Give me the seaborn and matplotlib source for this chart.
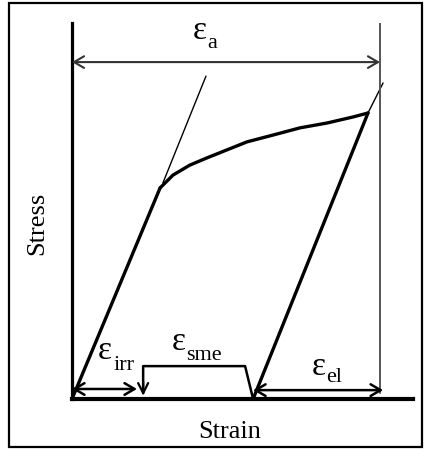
import matplotlib
matplotlib.use("Agg")
import matplotlib.pyplot as plt
from matplotlib.patches import Rectangle
import seaborn as sns
import pandas as pd

# ---- data (strain, stress in normalised units) ----
load_strain = [0.0, 0.286]
load_stress = [0.0, 0.738]
plastic_strain = [0.286, 0.328, 0.383, 0.438, 0.503, 0.568, 0.653, 0.740, 0.828, 0.912, 0.961]
plastic_stress = [0.738, 0.783, 0.818, 0.843, 0.871, 0.899, 0.923, 0.948, 0.965, 0.986, 1.0]
tangent_strain = [0.295, 0.435]
tangent_stress = [0.755, 1.129]
unload_strain = [0.961, 0.588]
unload_stress = [1.0, 0.0]
ext_strain = [0.961, 1.010]
ext_stress = [1.0, 1.105]
eps_a = 1.0
eps_irr = 0.231
eps_sme_end = 0.588
sme_top_left = 0.231
sme_top_right = 0.562
sme_height = 0.115

sns.set_theme(style="white")
plt.rcParams["font.family"] = ["Liberation Serif", "DejaVu Serif"]

fig = plt.figure(figsize=(4.25, 4.5), dpi=100)
W, H = 425, 450
x0, y0 = 72, 399
sx, sy = 308, 286
ax = fig.add_axes([x0 / W, 1 - y0 / H, (413 - x0) / W, (y0 - 23) / H])
ax.set_xlim(0, (413 - x0) / sx)
ax.set_ylim(0, (y0 - 23) / sy)
for s in ["top", "right"]:
    ax.spines[s].set_visible(False)
ax.spines["left"].set_linewidth(2.3)
ax.spines["bottom"].set_linewidth(3.0)
ax.spines["left"].set_color("black")
ax.spines["bottom"].set_color("black")
ax.set_xticks([])
ax.set_yticks([])

def line(xs, ys, lw, color="black"):
    df = pd.DataFrame({"strain": xs, "stress": ys})
    sns.lineplot(data=df, x="strain", y="stress", sort=False, estimator=None,
                 errorbar=None, ax=ax, color=color, linewidth=lw,
                 solid_capstyle="round", solid_joinstyle="round")

line(load_strain, load_stress, 2.4)
line(plastic_strain, plastic_stress, 2.4)
line(tangent_strain, tangent_stress, 1.0)
line(unload_strain, unload_stress, 2.4)
line(ext_strain, ext_stress, 1.0)
# right reference line
line([eps_a, eps_a], [0.02, (y0 - 23) / sy], 1.4, color="#555555")
# sme bracket
line([sme_top_left, sme_top_left, sme_top_right, eps_sme_end],
     [0.02, sme_height, sme_height, 0.0], 1.8)
ax.set_xlabel("")
ax.set_ylabel("")

ap = dict(arrowstyle="<->,head_length=0.6,head_width=0.35", color="black", lw=1.8,
          shrinkA=0, shrinkB=0)
ax.annotate("", xy=(0, 1.178), xytext=(eps_a, 1.178),
            arrowprops=dict(ap, color="#333333", lw=1.5))
ax.annotate("", xy=(0, 0.035), xytext=(eps_irr - 0.02, 0.035), arrowprops=ap)
ax.annotate("", xy=(eps_sme_end, 0.031), xytext=(eps_a + 0.01, 0.031), arrowprops=ap)
ax.annotate("", xy=(sme_top_left, 0.012), xytext=(sme_top_left, 0.06),
            arrowprops=dict(arrowstyle="->,head_length=0.6,head_width=0.3",
                            color="black", lw=1.6, shrinkA=0, shrinkB=0))

def ft(px, py, s, size, **kw):
    fig.text(px / W, 1 - py / H, s, fontsize=size, ha="center", va="center",
             color="black", **kw)

ft(37, 223, "Stress", 19, rotation=90)
ft(230, 432, "Strain", 19)
ft(200, 31, "ε", 24)
ft(212, 43, "a", 16)
ft(179, 342, "ε", 24)
ft(204, 356, "sme", 16)
ft(105, 351, "ε", 24)
ft(124, 366, "irr", 16)
ft(319, 367, "ε", 24)
ft(334, 378, "el", 16)

fig.patches.append(Rectangle((9 / W, 3 / H), (422 - 9) / W, (447 - 3) / H,
                             transform=fig.transFigure, fill=False,
                             edgecolor="black", linewidth=1.6))
fig.savefig("out.png", dpi=100, facecolor="white")
